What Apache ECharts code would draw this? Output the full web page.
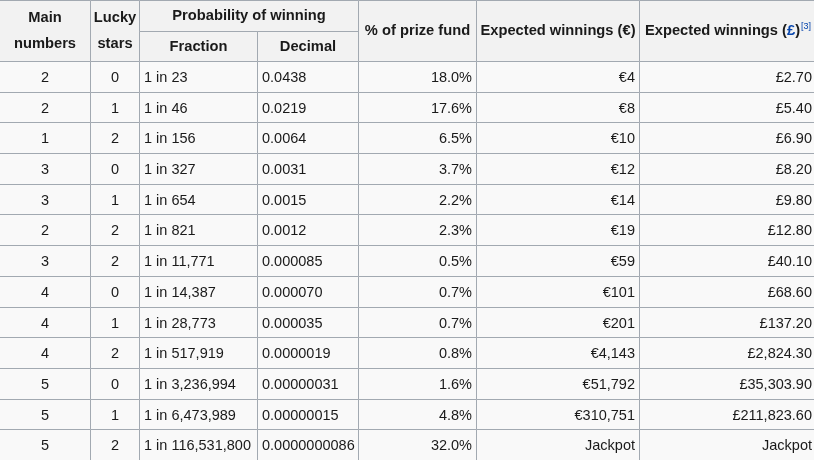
<!DOCTYPE html>
<html>
<head>
<meta charset="utf-8">
<script src="https://cdn.jsdelivr.net/npm/echarts@6/dist/echarts.min.js"></script>
<style>
  html, body { margin: 0; padding: 0; background: #fff; }
  #main { width: 814px; height: 460px; }
</style>
</head>
<body>
<div id="main"></div>
<script>
// table data
var mainNumbers = ['2', '2', '1', '3', '3', '2', '3', '4', '4', '4', '5', '5', '5'];
var luckyStars = ['0', '1', '2', '0', '1', '2', '2', '0', '1', '2', '0', '1', '2'];
var fractions = ['1 in 23', '1 in 46', '1 in 156', '1 in 327', '1 in 654', '1 in 821', '1 in 11,771',
  '1 in 14,387', '1 in 28,773', '1 in 517,919', '1 in 3,236,994', '1 in 6,473,989', '1 in 116,531,800'];
var decimals = ['0.0438', '0.0219', '0.0064', '0.0031', '0.0015', '0.0012', '0.000085',
  '0.000070', '0.000035', '0.0000019', '0.00000031', '0.00000015', '0.0000000086'];
var prizeFund = ['18.0%', '17.6%', '6.5%', '3.7%', '2.2%', '2.3%', '0.5%', '0.7%', '0.7%', '0.8%', '1.6%', '4.8%', '32.0%'];
var winEuro = ['€4', '€8', '€10', '€12', '€14', '€19', '€59', '€101', '€201', '€4,143', '€51,792', '€310,751', 'Jackpot'];
var winPound = ['£2.70', '£5.40', '£6.90', '£8.20', '£9.80', '£12.80', '£40.10', '£68.60', '£137.20',
  '£2,824.30', '£35,303.90', '£211,823.60', 'Jackpot'];

// layout
var colEdges = [-1, 90, 139, 257, 358, 476, 639, 816];
var headTop = 0, headMid = 31, headBottom = 61;
var rowH = 30.69;
var colAlign = ['center', 'center', 'left', 'left', 'right', 'right', 'right'];

var FONT = '"Liberation Sans", Arial, sans-serif';
var TEXT = '#1a1a1a';
var LINK = '#0645ad';
var HEAD_SIZE = 14.7, BODY_SIZE = 14.5;

var columns = [mainNumbers, luckyStars, fractions, decimals, prizeFund, winEuro, winPound];

// cell list: value = [x0, y0, x1, y1], plus text info
var cells = [];
function addCell(x0, y0, x1, y1, info) {
  cells.push({ value: [x0, y0, x1, y1], info: info });
}
// header
addCell(colEdges[0], headTop, colEdges[1], headBottom, { text: 'Main\nnumbers', head: true });
addCell(colEdges[1], headTop, colEdges[2], headBottom, { text: 'Lucky\nstars', head: true });
addCell(colEdges[2], headTop, colEdges[4], headMid, { text: 'Probability of winning', head: true });
addCell(colEdges[2], headMid, colEdges[3], headBottom, { text: 'Fraction', head: true });
addCell(colEdges[3], headMid, colEdges[4], headBottom, { text: 'Decimal', head: true });
addCell(colEdges[4], headTop, colEdges[5], headBottom, { text: '% of prize fund', head: true });
addCell(colEdges[5], headTop, colEdges[6], headBottom, { text: 'Expected winnings (€)', head: true });
addCell(colEdges[6], headTop, colEdges[7], headBottom, {
  text: '{t|Expected winnings (}{l|£}{t|)}{s|[3]}', head: true, rich: true
});
// body
for (var r = 0; r < mainNumbers.length; r++) {
  var y0 = headBottom + r * rowH;
  for (var c = 0; c < columns.length; c++) {
    addCell(colEdges[c], y0, colEdges[c + 1], y0 + rowH, { text: columns[c][r], align: colAlign[c] });
  }
}

var chart = echarts.init(document.getElementById('main'), null, { renderer: 'canvas' });

var option = {
  animation: false,
  grid: { left: 0, right: 0, top: 0, bottom: 0 },
  xAxis: { type: 'value', min: 0, max: 814, show: false },
  yAxis: { type: 'value', min: 0, max: 460, inverse: true, show: false },
  series: [{
    type: 'custom',
    coordinateSystem: 'cartesian2d',
    data: cells.map(function (d) { return d.value; }),
    silent: true,
    clip: false,
    renderItem: function (params, api) {
      var info = cells[params.dataIndex].info;
      var p0 = api.coord([api.value(0), api.value(1)]);
      var p1 = api.coord([api.value(2), api.value(3)]);
      var x0 = Math.round(p0[0]) + 0.5, y0 = Math.round(p0[1]) + 0.5;
      var x1 = Math.round(p1[0]) + 0.5, y1 = Math.round(p1[1]) + 0.5;
      var align = info.head ? 'center' : info.align;
      var tx = align === 'left' ? x0 + 4.5 : align === 'right' ? x1 - 4.5 : (x0 + x1) / 2;
      var ty = (y0 + y1) / 2 + (info.head ? 0 : 1);
      var style = {
        text: info.text,
        fill: TEXT,
        fontFamily: FONT,
        fontSize: info.head ? HEAD_SIZE : BODY_SIZE,
        fontWeight: info.head ? 'bold' : 'normal',
        align: align,
        verticalAlign: 'middle',
        lineHeight: info.head ? 26 : 16
      };
      if (info.rich) {
        style.rich = {
          t: { fill: TEXT, fontFamily: FONT, fontSize: HEAD_SIZE, fontWeight: 'bold', lineHeight: 18 },
          l: { fill: LINK, fontFamily: FONT, fontSize: HEAD_SIZE, fontWeight: 'bold', lineHeight: 18 },
          s: { fill: LINK, fontFamily: FONT, fontSize: 9, lineHeight: 18, verticalAlign: 'top', padding: [0, 0, 6, 1] }
        };
      }
      return {
        type: 'group',
        children: [{
          type: 'rect',
          shape: { x: x0, y: y0, width: x1 - x0, height: y1 - y0 },
          style: { fill: info.head ? '#f2f2f2' : '#f9f9f9', stroke: '#a2a9b1', lineWidth: 1 }
        }, {
          type: 'text',
          x: tx,
          y: ty,
          style: style
        }]
      };
    }
  }]
};

chart.setOption(option);
</script>
</body>
</html>
